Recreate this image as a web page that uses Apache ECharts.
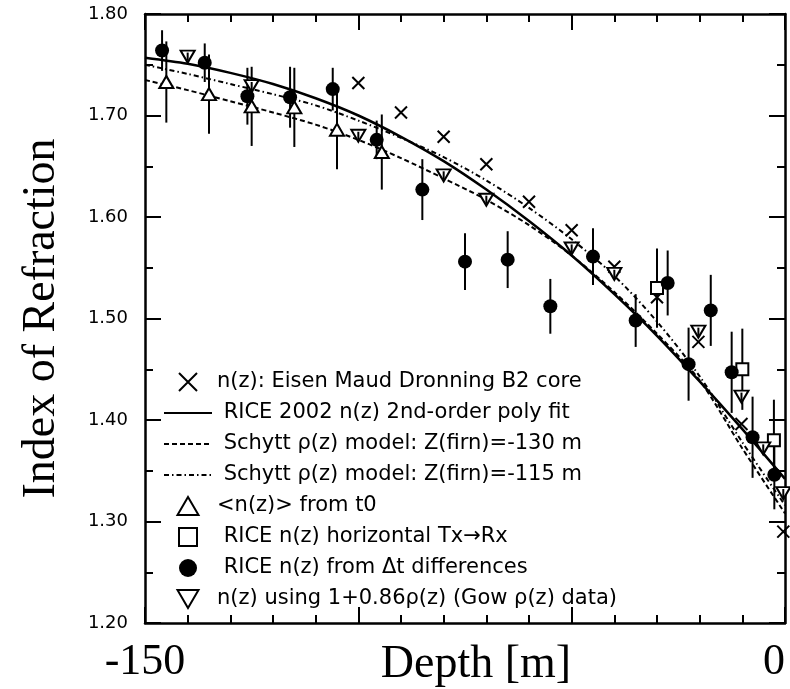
<!DOCTYPE html>
<html>
<head>
<meta charset="utf-8">
<script src="https://cdn.jsdelivr.net/npm/echarts@6/dist/echarts.min.js"></script>
<style>
	html, body { margin: 0; padding: 0; background: #fff; }
	#chart { width: 790px; height: 689px; }
</style>
</head>
<body>
<div id="chart"></div>
<script>
// depth [m] for the model curves
var fitDepth = [-150, -140, -130, -120, -110, -100, -90, -80, -70, -60, -50, -40, -30, -20, -10, 0];
var riceFit = [1.757, 1.751, 1.742, 1.731, 1.717, 1.700, 1.679, 1.655, 1.627, 1.596, 1.562, 1.524, 1.483, 1.438, 1.391, 1.342];
var schytt130 = [1.735, 1.725, 1.714, 1.703, 1.691, 1.676, 1.658, 1.638, 1.617, 1.592, 1.562, 1.526, 1.485, 1.439, 1.372, 1.308];
var schytt115 = [1.750, 1.741, 1.731, 1.721, 1.710, 1.695, 1.678, 1.659, 1.636, 1.609, 1.578, 1.542, 1.497, 1.443, 1.378, 1.316];

// Eisen B2 core
var eisenDepth = [-100, -90, -80, -70, -60, -50, -40, -30, -20.3, -10.2, -0.4];
var eisenN = [1.732, 1.703, 1.679, 1.652, 1.615, 1.587, 1.551, 1.521, 1.477, 1.396, 1.290];

// <n(z)> from t0
var t0Depth = [-145, -135, -125, -115, -105, -94.5];
var t0N = [1.733, 1.721, 1.709, 1.708, 1.686, 1.664];
var t0Err = [0.040, 0.039, 0.039, 0.039, 0.039, 0.037];

// horizontal Tx->Rx
var horizDepth = [-30, -10, -2.6];
var horizN = [1.530, 1.450, 1.380];
var horizErr = [0.039, 0.040, 0.040];

// from dt differences
var dtDepth = [-146, -136, -126, -116, -106, -95.7, -85, -75, -65, -55, -45, -35, -27.5, -22.6, -17.4, -12.5, -7.6, -2.5];
var dtN = [1.764, 1.752, 1.719, 1.718, 1.726, 1.676, 1.627, 1.556, 1.558, 1.512, 1.561, 1.498, 1.535, 1.455, 1.508, 1.447, 1.383, 1.346];
var dtErr = [0.020, 0.019, 0.028, 0.030, 0.021, 0.019, 0.030, 0.028, 0.028, 0.027, 0.028, 0.026, 0.032, 0.036, 0.035, 0.040, 0.040, 0.034];

// Gow density data
var gowDepth = [-140, -125, -100, -80, -70, -50, -40, -20.3, -10.2, -5.1, -0.4];
var gowN = [1.758, 1.729, 1.680, 1.641, 1.617, 1.569, 1.544, 1.487, 1.423, 1.372, 1.328];
var gowErr = [0.004, 0.004, 0.004, 0.004, 0.004, 0.004, 0.004, 0.004, 0.004, 0.004, 0.004];

var xLabelValues = [-150, 0];

var names = [
	'n(z): Eisen Maud Dronning B2 core',
	'RICE 2002 n(z) 2nd-order poly fit',
	'Schytt \u03c1(z) model: Z(firn)=-130 m',
	'Schytt \u03c1(z) model: Z(firn)=-115 m',
	'<n(z)> from t0',
	'RICE n(z) horizontal Tx\u2192Rx',
	'RICE n(z) from \u0394t differences',
	'n(z) using 1+0.86\u03c1(z) (Gow \u03c1(z) data)'
];
var indented = [names[1], names[2], names[3], names[5], names[6]];

// marker shapes (paths so the legend keeps their aspect)
var crossPath = 'path://M0,0L10,10M10,0L0,10';
var triUpPath = 'path://M7,0L14,12L0,12Z';
var triDownPath = 'path://M0,0L14,0L7,12Z';
var squarePath = 'path://M0,0L12,0L12,12L0,12Z';

var zip = function(xs, ys, es) {
	return xs.map(function(x, i) {
		return es ? [x, ys[i], es[i]] : [x, ys[i]];
	});
};

var errorBars = function(data, z) {
	return {
		type : 'custom',
		z : z,
		silent : true,
		data : data,
		encode : { x : 0, y : 1 },
		renderItem : function(params, api) {
			var x = api.value(0), y = api.value(1), e = api.value(2);
			var p1 = api.coord([x, y + e]);
			var p2 = api.coord([x, y - e]);
			return {
				type : 'line',
				shape : { x1 : p1[0], y1 : p1[1], x2 : p2[0], y2 : p2[1] },
				style : { stroke : '#000', lineWidth : 2 }
			};
		}
	};
};

var black = '#000';
var tickLine = { color : black, width : 2 };

var xAxisBase = function(pos, withLabels) {
	return {
		type : 'value',
		position : pos,
		min : -150,
		max : 0,
		interval : 50,
		axisLine : { onZero : false, lineStyle : { color : black, width : 2.5 } },
		axisTick : { inside : true, length : 16, lineStyle : tickLine },
		minorTick : { show : true, splitNumber : 5, length : 8, lineStyle : tickLine },
		splitLine : { show : false },
		minorSplitLine : { show : false },
		axisLabel : {
			show : withLabels,
			margin : 17,
			color : black,
			fontFamily : 'Liberation Serif',
			fontSize : 44,
			alignMaxLabel : 'right',
			formatter : function(v) {
				return xLabelValues.indexOf(v) >= 0 ? String(v) : '';
			}
		}
	};
};

var yAxisBase = function(pos, withLabels) {
	return {
		type : 'value',
		position : pos,
		min : 1.2,
		max : 1.8,
		interval : 0.1,
		axisLine : { onZero : false, lineStyle : { color : black, width : 2.5 } },
		axisTick : { inside : true, length : 16, lineStyle : tickLine },
		minorTick : { show : true, splitNumber : 2, length : 8, lineStyle : tickLine },
		splitLine : { show : false },
		minorSplitLine : { show : false },
		axisLabel : {
			show : withLabels,
			margin : 17,
			color : black,
			fontFamily : 'DejaVu Sans',
			fontSize : 18,
			formatter : function(v) { return v.toFixed(2); }
		}
	};
};

var xBottom = xAxisBase('bottom', true);
xBottom.name = 'Depth [m]';
xBottom.nameLocation = 'middle';
xBottom.nameGap = 19;
xBottom.nameMoveOverlap = false;
xBottom.nameTextStyle = { color : black, fontFamily : 'Liberation Serif', fontSize : 46, padding : [0, 0, 0, 22] };

var yLeft = yAxisBase('left', true);
yLeft.name = 'Index of Refraction';
yLeft.nameLocation = 'middle';
yLeft.nameGap = 80;
yLeft.nameMoveOverlap = false;
yLeft.nameTextStyle = { color : black, fontFamily : 'Liberation Serif', fontSize : 46 };

var openStyle = { color : '#fff', borderColor : black, borderWidth : 2, opacity : 1 };
var noDot = { color : 'rgba(0,0,0,0)' };

echarts.init(document.getElementById('chart')).setOption({
	animation : false,
	backgroundColor : '#fff',
	grid : { left : 145, right : 5, top : 14, bottom : 66, containLabel : false, outerBoundsMode : 'none' },
	xAxis : [ xBottom, xAxisBase('top', false) ],
	yAxis : [ yLeft, yAxisBase('right', false) ],
	legend : {
		orient : 'vertical',
		left : 163,
		top : 370,
		padding : 0,
		itemWidth : 48,
		itemHeight : 18,
		itemGap : 7,
		symbolKeepAspect : true,
		selectedMode : false,
		data : names,
		textStyle : { color : black, fontFamily : 'DejaVu Sans', fontSize : 21, lineHeight : 24 },
		formatter : function(name) {
			return indented.indexOf(name) >= 0 ? ' ' + name : name;
		}
	},
	series : [
		errorBars(zip(t0Depth, t0N, t0Err), 2),
		errorBars(zip(horizDepth, horizN, horizErr), 2),
		errorBars(zip(dtDepth, dtN, dtErr), 2),
		{
			name : names[1],
			type : 'line',
			z : 3,
			smooth : 0.3,
			symbol : 'none',
			itemStyle : noDot,
			data : zip(fitDepth, riceFit),
			lineStyle : { color : black, width : 2.5, type : 'solid' }
		}, {
			name : names[2],
			type : 'line',
			z : 3,
			smooth : 0.3,
			symbol : 'none',
			itemStyle : noDot,
			data : zip(fitDepth, schytt130),
			lineStyle : { color : black, width : 2, type : [5, 3] }
		}, {
			name : names[3],
			type : 'line',
			z : 3,
			smooth : 0.3,
			symbol : 'none',
			itemStyle : noDot,
			data : zip(fitDepth, schytt115),
			lineStyle : { color : black, width : 2, type : [5, 3, 1.5, 3] }
		}, {
			name : names[0],
			type : 'scatter',
			z : 4,
			symbol : crossPath,
			symbolSize : 12,
			itemStyle : { color : black, borderColor : black, borderWidth : 2, opacity : 1 },
			data : zip(eisenDepth, eisenN)
		}, {
			name : names[4],
			type : 'scatter',
			z : 4,
			symbol : triUpPath,
			symbolSize : [14, 12],
			itemStyle : openStyle,
			data : zip(t0Depth, t0N)
		}, {
			name : names[5],
			type : 'scatter',
			z : 4,
			symbol : squarePath,
			symbolSize : 12,
			itemStyle : openStyle,
			data : zip(horizDepth, horizN)
		}, {
			name : names[6],
			type : 'scatter',
			z : 5,
			symbol : 'circle',
			symbolSize : 14,
			itemStyle : { color : black, opacity : 1 },
			data : zip(dtDepth, dtN)
		}, {
			name : names[7],
			type : 'scatter',
			z : 4,
			symbol : triDownPath,
			symbolSize : [14, 12],
			itemStyle : openStyle,
			data : zip(gowDepth, gowN)
		},
		errorBars(zip(gowDepth, gowN, gowErr), 6)
	]
});
</script>
</body>
</html>
